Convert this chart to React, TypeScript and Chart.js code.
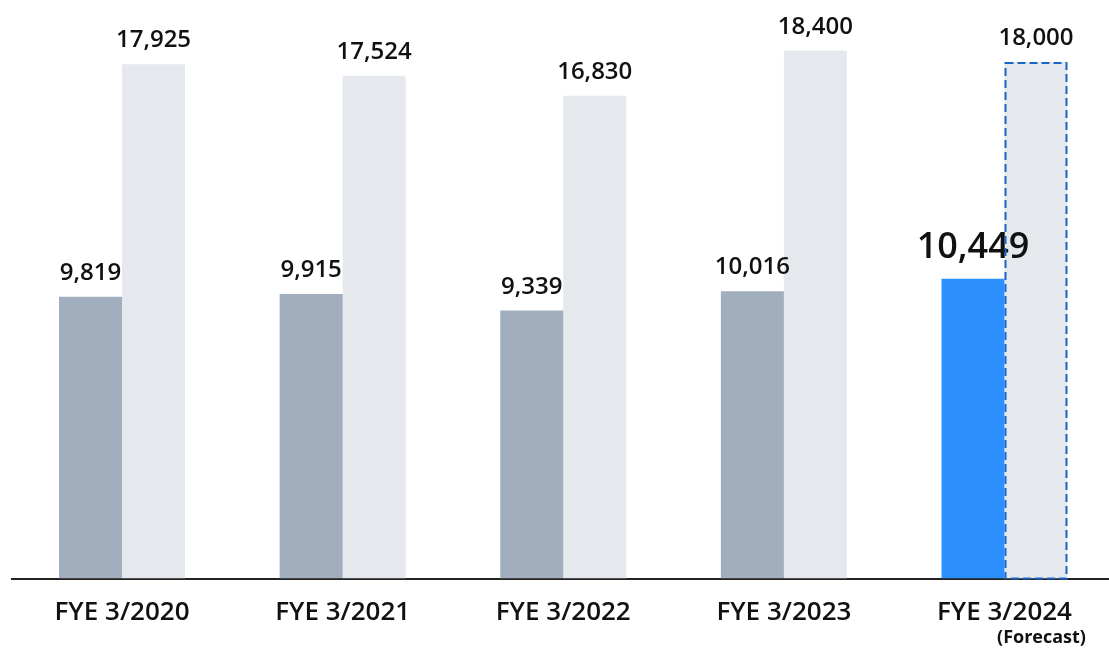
import React, { useEffect, useRef } from "react";
import { Chart, registerables } from "chart.js";

Chart.register(...registerables);

const categories = ["FYE 3/2020", "FYE 3/2021", "FYE 3/2022", "FYE 3/2023", "FYE 3/2024"];
const actualValues = [9819, 9915, 9339, 10016, 10449];
const secondValues = [17925, 17524, 16830, 18400, 18000];
const forecastNote = "(Forecast)";
const yMax = 20000;

const GREY = "#a0aebd";
const BLUE = "#2e8fff";
const LIGHT = "#e5e8ed";
const DASH = "#1a66c8";
const FONT = "'Open Sans', 'Noto Sans', sans-serif";

const fmt = (v: number) => v.toLocaleString("en-US");

const labelPlugin = {
  id: "labels",
  afterDatasetsDraw(chart: any) {
    const ctx = chart.ctx;
    ctx.save();
    ctx.fillStyle = "#111";
    ctx.textAlign = "center";
    ctx.textBaseline = "alphabetic";
    chart.data.datasets.forEach((ds: any, di: number) => {
      const meta = chart.getDatasetMeta(di);
      meta.data.forEach((bar: any, i: number) => {
        const big = di === 0 && i === ds.data.length - 1;
        ctx.font = big ? `600 36px ${FONT}` : `600 24px ${FONT}`;
        ctx.fillText(fmt(ds.data[i]), bar.x, bar.y - (big ? 21 : 17));
      });
    });
    // dashed outline on forecast bar
    const meta1 = chart.getDatasetMeta(1);
    const fb = meta1.data[meta1.data.length - 1];
    ctx.strokeStyle = DASH;
    ctx.lineWidth = 2;
    ctx.setLineDash([8, 4]);
    const l = fb.x - fb.width / 2 + 1;
    const r = fb.x + fb.width / 2 - 1;
    ctx.strokeRect(l, fb.y + 1, r - l, fb.base - fb.y - 1);
    ctx.setLineDash([]);
    // forecast note
    const xs = chart.scales.x;
    const cx = xs.getPixelForValue(categories.length - 1);
    ctx.font = `700 18px ${FONT}`;
    ctx.fillText(forecastNote, cx + 37, 643);
    ctx.restore();
  },
};

export default function App() {
  const ref = useRef<HTMLCanvasElement>(null);
  useEffect(() => {
    if (!ref.current) return;
    const chart = new Chart(ref.current, {
      type: "bar",
      data: {
        labels: categories,
        datasets: [
          {
            data: actualValues,
            backgroundColor: actualValues.map((_, i) => (i === actualValues.length - 1 ? BLUE : GREY)),
            categoryPercentage: 0.571,
            barPercentage: 1,
          },
          {
            data: secondValues,
            backgroundColor: LIGHT,
            categoryPercentage: 0.571,
            barPercentage: 1,
          },
        ],
      },
      options: {
        responsive: false,
        animation: false,
        layout: { padding: { left: 11.7, right: 5.2, top: 4.7, bottom: 0 } },
        plugins: { legend: { display: false }, tooltip: { enabled: false } },
        scales: {
          x: {
            grid: { display: false, drawTicks: false },
            border: { display: true, color: "#222", width: 2 },
            ticks: {
              color: "#111",
              font: { family: FONT, size: 26, weight: "600" },
              padding: 18,
              maxRotation: 0,
              autoSkip: false,
            },
            afterFit: (s: any) => {
              s.height = 69.5;
            },
          },
          y: {
            display: false,
            min: 0,
            max: yMax,
          },
        },
      },
      plugins: [labelPlugin],
    });
    return () => chart.destroy();
  }, []);
  return (
    <div style={{ position: "fixed", left: 0, top: 0, width: 1109, height: 648, overflow: "hidden", background: "#fff" }}>
      <canvas ref={ref} width={1120} height={648} style={{ display: "block", width: 1120, height: 648 }} />
    </div>
  );
}
